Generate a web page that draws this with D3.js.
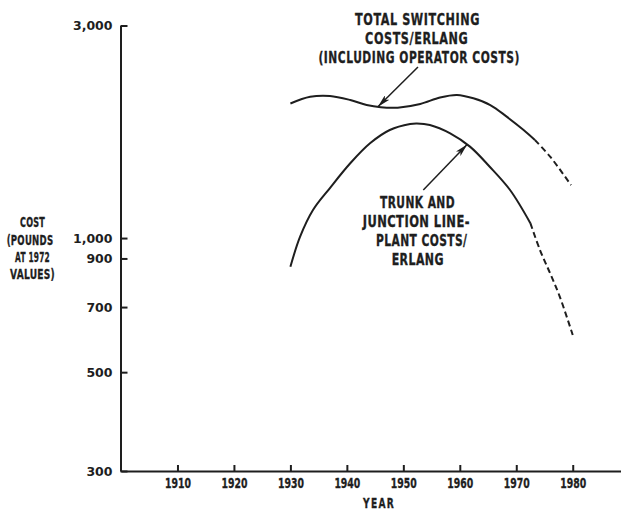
<!DOCTYPE html>
<html>
<head>
<meta charset="utf-8">
<script src="https://cdn.jsdelivr.net/npm/d3@7"></script>
<style>
  html, body { margin: 0; padding: 0; background: #ffffff; }
  svg { display: block; }
  text { font-family: "DejaVu Sans", "Liberation Sans", sans-serif; font-weight: bold; fill: #1e1e1e; }
</style>
</head>
<body>
<svg id="chart" width="621" height="512"></svg>
<script>
// ---- data ----
const xTicks = [1910, 1920, 1930, 1940, 1950, 1960, 1970, 1980];
const yTicks = [300, 500, 700, 900, 1000, 3000];
const yTickLabels = ["300", "500", "700", "900", "1,000", "3,000"];

// Total switching costs/erlang (including operator costs)
const switchingYears  = [1930, 1933.5, 1937, 1940.6, 1943.5, 1946, 1949, 1953, 1956.5, 1959.5, 1962.4, 1965.4, 1968.3, 1971.3, 1973.3];
const switchingCost   = [2005, 2075, 2084, 2041, 1989, 1966, 1962, 2000, 2068, 2095, 2059, 1989, 1873, 1748, 1660];
const switchingDashYears = [1973.3, 1976, 1979.7];
const switchingDashCost  = [1660, 1523, 1315];

// Trunk and junction line-plant costs/erlang
const trunkYears = [1930, 1931.7, 1934, 1937, 1940.6, 1944.1, 1947.6, 1951.2, 1952.4, 1954.7, 1958.3, 1961.8, 1965.3, 1968.9, 1972.5];
const trunkCost  = [862, 1006, 1156, 1295, 1472, 1632, 1748, 1803, 1808, 1794, 1718, 1604, 1446, 1282, 1080];
const trunkDashYears = [1972.5, 1974.2, 1976, 1977.7, 1980];
const trunkDashCost  = [1080, 940, 833, 739, 606];

const yAxisTitle = ["COST", "(POUNDS", "AT 1972", "VALUES)"];
const xAxisTitle = "YEAR";
const switchingLabel = ["TOTAL SWITCHING", "COSTS/ERLANG", "(INCLUDING OPERATOR COSTS)"];
const trunkLabel = ["TRUNK AND", "JUNCTION LINE-", "PLANT COSTS/", "ERLANG"];

// ---- layout (positions and lettering widths, px) ----
const layout = {
  switching: { x: [417.5, 416.7, 419.2], y: [18.8, 37.8, 57], w: [125, 103.3, 201.7], size: 16 },
  trunk:     { x: [417.5, 416.3, 421.7, 417.8], y: [202.5, 221.5, 240.5, 259.5], w: [75, 107.3, 91.3, 52.3], size: 16 },
  yTitle:    { x: [32.5, 30, 32.5, 32.5], y: [221.7, 239.8, 257.2, 274], w: [25, 46.7, 35, 45], size: 14 },
  xTitle:    { x: [379], y: [502.5], w: [32], size: 14 }
};

const svg = d3.select("#chart");
const ink = "#1e1e1e";

const x = d3.scaleLinear().domain([1900, 1990]).range([121, 629.2]);
const y = d3.scaleLog().domain([300, 3000]).range([471, 25.5]);

// condensed hand-lettering look: each line squeezed horizontally to its width
function letter(lines, lay, spacing) {
  const g = svg.append("g");
  g.selectAll("text").data(lines).join("text")
    .attr("text-anchor", "middle").attr("dy", "0.36em")
    .attr("font-size", lay.size).attr("letter-spacing", spacing)
    .attr("stroke", ink).attr("stroke-width", 0.35)
    .text(d => d)
    .each(function (d, i) {
      const w = this.getComputedTextLength();
      const s = lay.w[i] / w;
      d3.select(this).attr("transform", `translate(${lay.x[i]},${lay.y[i]}) scale(${s},1)`);
    });
  return g;
}

// Axes
const gx = svg.append("g").attr("transform", `translate(0,${y(300)})`)
  .call(d3.axisBottom(x).tickValues(xTicks).tickFormat(d3.format("d"))
        .tickSizeInner(-6).tickSizeOuter(0).tickPadding(7));
gx.selectAll("path, line").attr("stroke", ink).attr("stroke-width", 2);
gx.selectAll(".tick text").attr("font-size", 14).attr("fill", ink)
  .attr("stroke", ink).attr("stroke-width", 0.35)
  .each(function () {
    const s = 26 / this.getComputedTextLength();
    d3.select(this).attr("transform", `scale(${s},1)`);
  });

const gy = svg.append("g").attr("transform", `translate(${x(1900) - 0.5},0)`)
  .call(d3.axisLeft(y).tickValues(yTicks).tickFormat(d => yTickLabels[yTicks.indexOf(d)])
        .tickSizeInner(-7).tickSizeOuter(0).tickPadding(8));
gy.selectAll("path, line").attr("stroke", ink).attr("stroke-width", 2);
gy.selectAll(".tick text").attr("font-size", 12.5).attr("fill", ink);
svg.selectAll(".domain").attr("fill", "none");

// Curves
const line = d3.line().x(d => x(d[0])).y(d => y(d[1])).curve(d3.curveCatmullRom.alpha(0.5));
const series = [
  { yrs: switchingYears, vals: switchingCost, dash: null },
  { yrs: switchingDashYears, vals: switchingDashCost, dash: "6,3.5" },
  { yrs: trunkYears, vals: trunkCost, dash: null },
  { yrs: trunkDashYears, vals: trunkDashCost, dash: "6,3.5" }
];
series.forEach(s => {
  svg.append("path")
    .datum(s.yrs.map((yr, i) => [yr, s.vals[i]]))
    .attr("d", line)
    .attr("fill", "none")
    .attr("stroke", ink)
    .attr("stroke-width", 2)
    .attr("stroke-dasharray", s.dash);
});

// Arrow marker
svg.append("defs").append("marker")
  .attr("id", "arrow").attr("viewBox", "0 0 12 6")
  .attr("refX", 12).attr("refY", 3)
  .attr("markerWidth", 13).attr("markerHeight", 6.5)
  .attr("markerUnits", "userSpaceOnUse")
  .attr("orient", "auto")
  .append("path").attr("d", "M0,0 L12,3 L0,6 L3,3 Z").attr("fill", ink);

svg.append("line")
  .attr("x1", 418).attr("y1", 67).attr("x2", x(1945.5)).attr("y2", y(1972))
  .attr("stroke", ink).attr("stroke-width", 1.5).attr("marker-end", "url(#arrow)");
svg.append("line")
  .attr("x1", 423.3).attr("y1", 190).attr("x2", x(1961.3)).attr("y2", y(1622))
  .attr("stroke", ink).attr("stroke-width", 1.5).attr("marker-end", "url(#arrow)");

// Labels
letter(switchingLabel, layout.switching, 0.8);
letter(trunkLabel, layout.trunk, 0.6);
letter(yAxisTitle, layout.yTitle, 0.4);
letter([xAxisTitle], layout.xTitle, 2);
</script>
</body>
</html>
